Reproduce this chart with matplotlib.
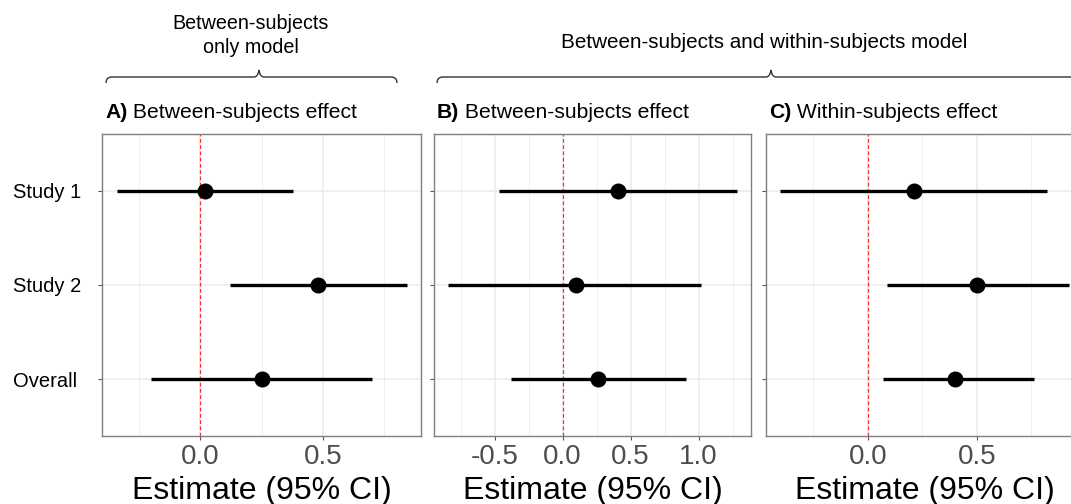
import matplotlib.pyplot as plt
import numpy as np
from matplotlib.path import Path
from matplotlib.patches import PathPatch
from matplotlib.ticker import MultipleLocator, FormatStrFormatter

plt.rcParams['font.family'] = ['Liberation Sans', 'DejaVu Sans']
plt.rcParams['axes.unicode_minus'] = False

labels = ['Study 1', 'Study 2', 'Overall']

# A) between-subjects only model
a_est = [0.02, 0.48, 0.25]
a_low = [-0.34, 0.12, -0.20]
a_high = [0.38, 0.84, 0.70]

# B) between-subjects effect, combined model
b_est = [0.41, 0.10, 0.26]
b_low = [-0.47, -0.84, -0.38]
b_high = [1.28, 1.02, 0.91]

# C) within-subjects effect, combined model
c_est = [0.21, 0.50, 0.40]
c_low = [-0.40, 0.09, 0.07]
c_high = [0.82, 0.92, 0.76]

W, H = 1071, 504
GRID = '#EBEBEB'


def add_panel(fig, left, width, est, low, high, tag, title, show_labels):
    ax = fig.add_axes([left / W, (H - 436) / H, width / W, 302 / H])
    y = np.arange(len(labels))[::-1] + 1  # first study on top

    ax.hlines(y, low, high, color='black', linewidth=2.4, zorder=3)
    ax.plot(est, y, 'o', color='black', markersize=10.5, zorder=4)
    ax.axvline(0, color='#FF2A2A', linestyle=(0, (3, 2)), linewidth=0.9, zorder=2)

    # ggplot style 5% expansion
    span = max(high) - min(low)
    ax.set_xlim(min(low) - 0.05 * span, max(high) + 0.05 * span)
    ax.set_ylim(0.4, 3.6)

    ax.xaxis.set_major_locator(MultipleLocator(0.5))
    ax.xaxis.set_minor_locator(MultipleLocator(0.25))
    ax.xaxis.set_major_formatter(FormatStrFormatter('%.1f'))
    ax.set_yticks(y)
    ax.set_yticklabels(labels if show_labels else [])

    ax.grid(which='major', color=GRID, linewidth=1.1)
    ax.grid(which='minor', axis='x', color='#F0F0F0', linewidth=0.7)
    ax.set_axisbelow(True)

    ax.tick_params(which='major', length=3, width=0.8, color='#555555')
    ax.tick_params(which='minor', length=0)
    ax.tick_params(axis='x', labelsize=20, labelcolor='#4D4D4D', pad=3)
    ax.tick_params(axis='y', labelsize=14.5, labelcolor='black', pad=61)
    for lbl in ax.get_yticklabels():
        lbl.set_horizontalalignment('left')

    for sp in ax.spines.values():
        sp.set_color('#7F7F7F')
        sp.set_linewidth(1.0)

    ax.set_xlabel('Estimate (95% CI)', fontsize=23, labelpad=4)

    t = ax.text(3 / width, 1 + 16 / 302, tag, transform=ax.transAxes,
                fontsize=15.2, fontweight='bold', va='baseline')
    ax.annotate(' ' + title, xy=(1, 0), xycoords=t, fontsize=15.2,
                va='bottom')
    return ax


def brace(ax, x0, x1, xtip, y_line=77, y_end=83, y_tip=70, r=6):
    verts = [(x0, y_end), (x0, y_line), (x0 + r, y_line),
             (xtip - 5, y_line),
             (xtip - 1, y_line), (xtip, y_tip),
             (xtip + 1, y_line), (xtip + 5, y_line),
             (x1 - r, y_line),
             (x1, y_line), (x1, y_end)]
    codes = [Path.MOVETO, Path.CURVE3, Path.CURVE3,
             Path.LINETO,
             Path.CURVE3, Path.CURVE3,
             Path.CURVE3, Path.CURVE3,
             Path.LINETO,
             Path.CURVE3, Path.CURVE3]
    ax.add_patch(PathPatch(Path(verts, codes), facecolor='none',
                           edgecolor='#333333', linewidth=1.0))


fig = plt.figure(figsize=(W / 100, H / 100), dpi=100)

add_panel(fig, 102, 319, a_est, a_low, a_high, 'A)', 'Between-subjects effect', True)
add_panel(fig, 434, 317, b_est, b_low, b_high, 'B)', 'Between-subjects effect', False)
add_panel(fig, 766, 317, c_est, c_low, c_high, 'C)', 'Within-subjects effect', False)

# header annotations with curly braces
over = fig.add_axes([0, 0, 1, 1], zorder=-1)
over.set_xlim(0, W)
over.set_ylim(H, 0)
over.axis('off')
brace(over, 106, 397, 259)
brace(over, 437, 1105, 771)

fig.text(251 / W, 1 - 29 / H, 'Between-subjects', ha='center', va='baseline', fontsize=14.2)
fig.text(251 / W, 1 - 53 / H, 'only model', ha='center', va='baseline', fontsize=14.2)
fig.text(764 / W, 1 - 48 / H, 'Between-subjects and within-subjects model',
         ha='center', va='baseline', fontsize=14.9)

fig.savefig('out.png', dpi=100)
